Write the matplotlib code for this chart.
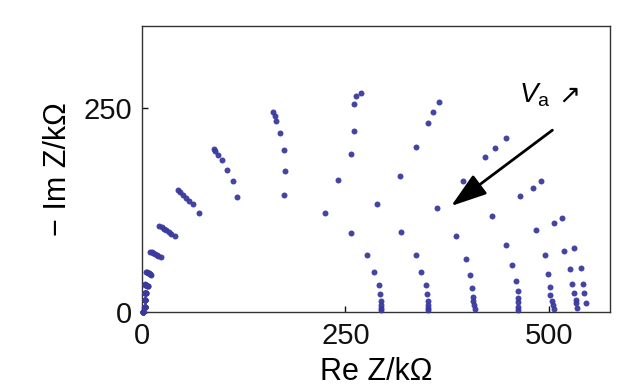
import matplotlib
matplotlib.use("Agg")
import matplotlib.pyplot as plt

plt.rcParams["font.family"] = ["Liberation Sans", "DejaVu Sans"]
plt.rcParams["mathtext.fontset"] = "custom"
plt.rcParams["mathtext.rm"] = "Liberation Sans"
plt.rcParams["mathtext.it"] = "Liberation Sans:italic"

# Nyquist data, one curve per bias voltage (largest arc = lowest Va)
c7_x = [0.5, 3.0, 3.3, 3.5, 3.3, 5.4, 10, 21, 44, 88, 161, 268.8, 365, 448, 491, 516.8, 531, 540, 542, 543.3, 546]
c7_y = [0.5, 6.5, 15, 23, 34, 49, 74, 106, 150, 200, 245, 268, 257, 214, 160.7, 115.7, 79, 54.4, 34.4, 23.7, 10.7]

c6_x = [0.5, 3.0, 3.3, 3.6, 4.0, 6.3, 12, 24, 47, 90, 163, 263, 357.5, 434.4, 480.6, 506.5, 518.8, 525.7, 529, 531, 533, 534, 535]
c6_y = [0.5, 6.5, 15, 23, 33.5, 48.5, 73, 104, 147, 197, 240, 265, 245, 201.6, 152.5, 108.8, 75, 52.8, 34.4, 23.7, 14.7, 10.7, 5.3]

c5_x = [0.5, 3.1, 3.4, 3.8, 4.7, 7.2, 14, 27, 50, 93, 165, 260.6, 351, 422, 464.3, 484.8, 496, 499, 501, 501, 504.5, 505, 507]
c5_y = [0.5, 6.5, 15, 23, 33, 48, 72, 102, 144, 193, 234, 255, 232, 190, 142.3, 100.6, 70, 46.6, 31, 21, 13.5, 8.6, 3.7]

c4_x = [0.5, 3.2, 3.5, 4.0, 5.4, 8.2, 16, 30, 54, 98, 169, 260.6, 336.5, 394.6, 430, 448, 455.3, 460, 462, 462, 462, 462, 462]
c4_y = [0.5, 6.5, 15, 23, 33, 47.5, 71, 100, 140, 186, 220, 222, 202.8, 160.7, 118, 82, 57.7, 38, 26, 17.5, 12, 6.5, 2]

c3_x = [0.6, 3.3, 3.7, 4.3, 6.0, 9.2, 18, 33, 58, 105, 174, 257.4, 317.6, 362, 386.5, 398.8, 403.7, 405.6, 407, 407, 407.7, 409]
c3_y = [0.5, 6.5, 15, 23, 32.5, 47, 70, 98, 136, 174, 199, 194, 167, 128, 93, 65, 45.4, 29.8, 18.8, 13.5, 8.6, 3.7]

c2_x = [0.7, 3.4, 3.9, 4.5, 6.7, 10.3, 20, 36, 63, 112, 176, 241, 289.4, 318.9, 336.5, 343.4, 348.8, 350.8, 351, 351, 351.5, 352]
c2_y = [0.5, 6.5, 15, 23, 32.3, 46.5, 69, 96, 132, 161, 173, 162, 132, 98.5, 70, 48.7, 33, 22, 13.5, 8.6, 5, 2.5]

c1_x = [0.8, 3.5, 4.0, 4.7, 7.4, 11.5, 23, 40, 70, 117, 174, 225.4, 257.4, 276.6, 285, 291, 293, 294, 294, 294, 294]
c1_y = [0.5, 6.5, 15, 23, 32, 46, 67, 93, 121, 141, 143, 121, 96.5, 70, 48.7, 33, 22, 13.5, 8.6, 5.5, 2.5]

curves = [(c7_x, c7_y), (c6_x, c6_y), (c5_x, c5_y), (c4_x, c4_y),
          (c3_x, c3_y), (c2_x, c2_y), (c1_x, c1_y)]

x_ticks = [0, 250, 500]
y_ticks = [0, 250]

dot_color = "#3a3a9e"


def main():
    fig = plt.figure(figsize=(6.26, 3.91), dpi=100)
    ax = fig.add_axes([0.227, 0.202, 0.747, 0.732])

    for xs, ys in curves:
        ax.plot(xs, ys, "o", color=dot_color, markersize=4.3,
                markeredgewidth=0, alpha=0.95, clip_on=False, zorder=3)

    ax.set_xlim(0, 575)
    ax.set_ylim(0, 351)
    ax.set_xticks(x_ticks)
    ax.set_yticks(y_ticks)
    ax.tick_params(direction="in", length=4, width=1, labelsize=21,
                   pad=7, colors="#111111")
    for sp in ax.spines.values():
        sp.set_linewidth(1.0)
        sp.set_color("#333333")

    ax.set_xlabel("Re Z/kΩ", fontsize=22, labelpad=5)
    ax.set_ylabel("− Im Z/kΩ", fontsize=22, labelpad=8)

    ax.annotate("", xy=(380, 130), xytext=(504.5, 223),
                arrowprops=dict(arrowstyle="-|>,head_length=1.0,head_width=0.33",
                                mutation_scale=22, color="black", lw=2,
                                shrinkA=0, shrinkB=0))
    ax.text(464, 257, r"$V_\mathrm{a}$", fontsize=20, ha="left", va="baseline")
    ax.text(525, 266, "↗", fontsize=19, ha="center", va="center",
            family=["DejaVu Sans"])

    fig.savefig("out.png", dpi=100)


if __name__ == "__main__":
    main()
